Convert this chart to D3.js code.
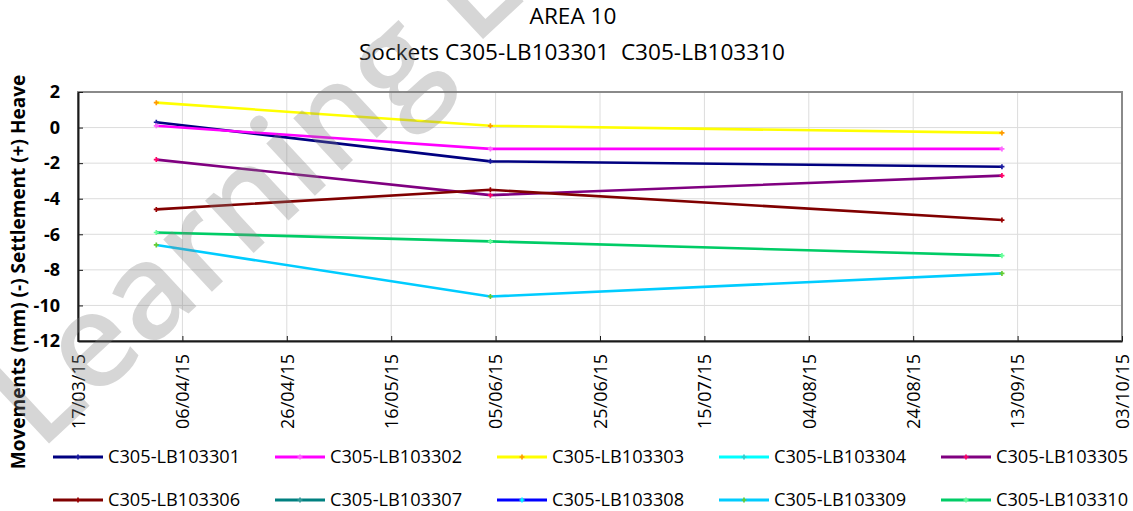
<!DOCTYPE html>
<html>
<head>
<meta charset="utf-8">
<script src="https://cdn.jsdelivr.net/npm/d3@7"></script>
<style>
  html, body { margin: 0; padding: 0; background: #fff; }
  svg { display: block; }
  text { font-family: "Open Sans", "Noto Sans", sans-serif; fill: #000; }
</style>
</head>
<body>
<svg id="chart" width="1133" height="511"></svg>
<script>
// ---- data ----
const titleText = "AREA 10";
const subtitleText = "Sockets C305-LB103301  C305-LB103310";
const yAxisTitle = "Movements (mm) (-) Settlement (+) Heave";
const watermarkText = "Learning Legacy";

const readingDates = ["2015-04-01", "2015-06-04", "2015-09-10"];

const seriesNames = ["C305-LB103301", "C305-LB103302", "C305-LB103303", "C305-LB103304", "C305-LB103305",
                     "C305-LB103306", "C305-LB103307", "C305-LB103308", "C305-LB103309", "C305-LB103310"];
const s301 = [0.3, -1.9, -2.2];
const s302 = [0.1, -1.2, -1.2];
const s303 = [1.4, 0.1, -0.3];
const s304 = [];
const s305 = [-1.8, -3.8, -2.7];
const s306 = [-4.6, -3.5, -5.2];
const s307 = [];
const s308 = [];
const s309 = [-6.6, -9.5, -8.2];
const s310 = [-5.9, -6.4, -7.2];
const seriesValues = [s301, s302, s303, s304, s305, s306, s307, s308, s309, s310];

const lineColors = ["#000080", "#ff00ff", "#ffff00", "#00ffff", "#800080",
                    "#800000", "#008080", "#0000ff", "#00ccff", "#00cc66"];
const markerColors = ["#1a1aa0", "#ff66ff", "#ff9900", "#33cccc", "#ff0066",
                      "#990000", "#339999", "#00ffff", "#66cc33", "#66ff99"];

const yTicks = [2, 0, -2, -4, -6, -8, -10, -12];
const xStart = "2015-03-17", xEnd = "2015-10-03", xStepDays = 20;

// ---- layout ----
const W = 1133, H = 511;
const plot = { left: 78, right: 1122, top: 92, bottom: 341 };

const parse = d3.timeParse("%Y-%m-%d");
const fmt = d3.timeFormat("%d/%m/%y");
const t0 = parse(xStart), t1 = parse(xEnd);
const xTickValues = d3.range(0, d3.timeDay.count(t0, t1) + 1, xStepDays).map(d => d3.timeDay.offset(t0, d));

const x = d3.scaleTime().domain([t0, t1]).range([plot.left, plot.right]);
const y = d3.scaleLinear().domain([-12, 2]).range([plot.bottom, plot.top]);

const svg = d3.select("#chart");

// titles
svg.append("text").attr("x", 573).attr("y", 24).attr("text-anchor", "middle")
  .style("font-size", "22.6px").text(titleText);
svg.append("text").attr("x", 572).attr("y", 60).attr("text-anchor", "middle")
  .style("font-size", "22.6px").style("white-space", "pre").attr("xml:space", "preserve").text(subtitleText);

// gridlines
const grid = svg.append("g");
grid.selectAll("line.h").data(yTicks).join("line")
  .attr("x1", plot.left).attr("x2", plot.right)
  .attr("y1", d => y(d)).attr("y2", d => y(d))
  .attr("stroke", "#dcdcdc").attr("stroke-width", 1);
grid.selectAll("line.v").data(xTickValues).join("line")
  .attr("x1", d => x(d)).attr("x2", d => x(d))
  .attr("y1", plot.top).attr("y2", plot.bottom)
  .attr("stroke", "#dcdcdc").attr("stroke-width", 1);

// plot frame (top/right gray)
svg.append("rect").attr("x", plot.left).attr("y", plot.top)
  .attr("width", plot.right - plot.left).attr("height", plot.bottom - plot.top)
  .attr("fill", "none").attr("stroke", "#8a8a8a").attr("stroke-width", 2);

// y axis
const yAxis = svg.append("g").attr("transform", `translate(${plot.left},0)`)
  .call(d3.axisLeft(y).tickValues(yTicks).tickSizeInner(-5).tickSizeOuter(0).tickPadding(18).tickFormat(d3.format("d")));
yAxis.select(".domain").attr("stroke", "#1a1a1a").attr("stroke-width", 2);
yAxis.selectAll(".tick line").attr("stroke", "#1a1a1a");
yAxis.selectAll(".tick text").style("font-size", "18px").style("font-weight", "bold")
  .style("font-family", "'Open Sans', sans-serif").style("fill", "#000").text(d => d < 0 ? "-" + Math.abs(d) : d);

// x axis
const xAxis = svg.append("g").attr("transform", `translate(0,${plot.bottom})`)
  .call(d3.axisBottom(x).tickValues(xTickValues).tickSizeInner(-5).tickSizeOuter(0).tickFormat(fmt));
xAxis.select(".domain").attr("stroke", "#1a1a1a").attr("stroke-width", 2);
xAxis.selectAll(".tick line").attr("stroke", "#1a1a1a");
xAxis.selectAll(".tick text")
  .attr("transform", "rotate(-90)")
  .attr("text-anchor", "end")
  .attr("x", -13).attr("y", 0).attr("dy", "0.35em")
  .style("font-size", "18px").style("font-family", "'Open Sans', sans-serif").style("fill", "#000");

// y axis title
svg.append("text").attr("transform", "translate(25,272) rotate(-90)")
  .attr("text-anchor", "middle").style("font-size", "19px").style("font-weight", "bold").text(yAxisTitle);

// series
const line = d3.line().x(d => x(d.date)).y(d => y(d.value));
const series = seriesNames.map((name, i) => ({
  name, color: lineColors[i], marker: markerColors[i],
  points: seriesValues[i].map((v, j) => ({ date: parse(readingDates[j]), value: v }))
}));

const gSeries = svg.append("g");
series.forEach(s => {
  if (!s.points.length) return;
  gSeries.append("path").datum(s.points).attr("d", line)
    .attr("fill", "none").attr("stroke", s.color).attr("stroke-width", 2.6).attr("stroke-linejoin", "round");
  gSeries.selectAll(null).data(s.points).join("path")
    .attr("transform", d => `translate(${x(d.date)},${y(d.value)})`)
    .attr("d", d3.symbol(d3.symbolCross, 14)())
    .attr("fill", s.marker);
});

// legend
const legend = svg.append("g");
const legCol = 222, legX0 = 53, legRows = [457, 500];
series.forEach((s, i) => {
  const col = i % 5, row = Math.floor(i / 5);
  const gx = legX0 + col * legCol, gy = legRows[row];
  const g = legend.append("g").attr("transform", `translate(${gx},${gy})`);
  g.append("line").attr("x1", 0).attr("x2", 50).attr("y1", 0).attr("y2", 0)
    .attr("stroke", s.color).attr("stroke-width", 3);
  g.append("path").attr("transform", "translate(25,0)").attr("d", d3.symbol(d3.symbolCross, 14)()).attr("fill", s.marker);
  g.append("text").attr("x", 55).attr("y", 0).attr("dy", "0.35em").style("font-size", "18.2px").text(s.name);
});

// watermark overlay
svg.append("text").attr("transform", "translate(40,452) rotate(-43)")
  .style("font-size", "132px").style("font-weight", "600")
  .style("fill", "#808080").style("fill-opacity", 0.32).text(watermarkText);
</script>
</body>
</html>
